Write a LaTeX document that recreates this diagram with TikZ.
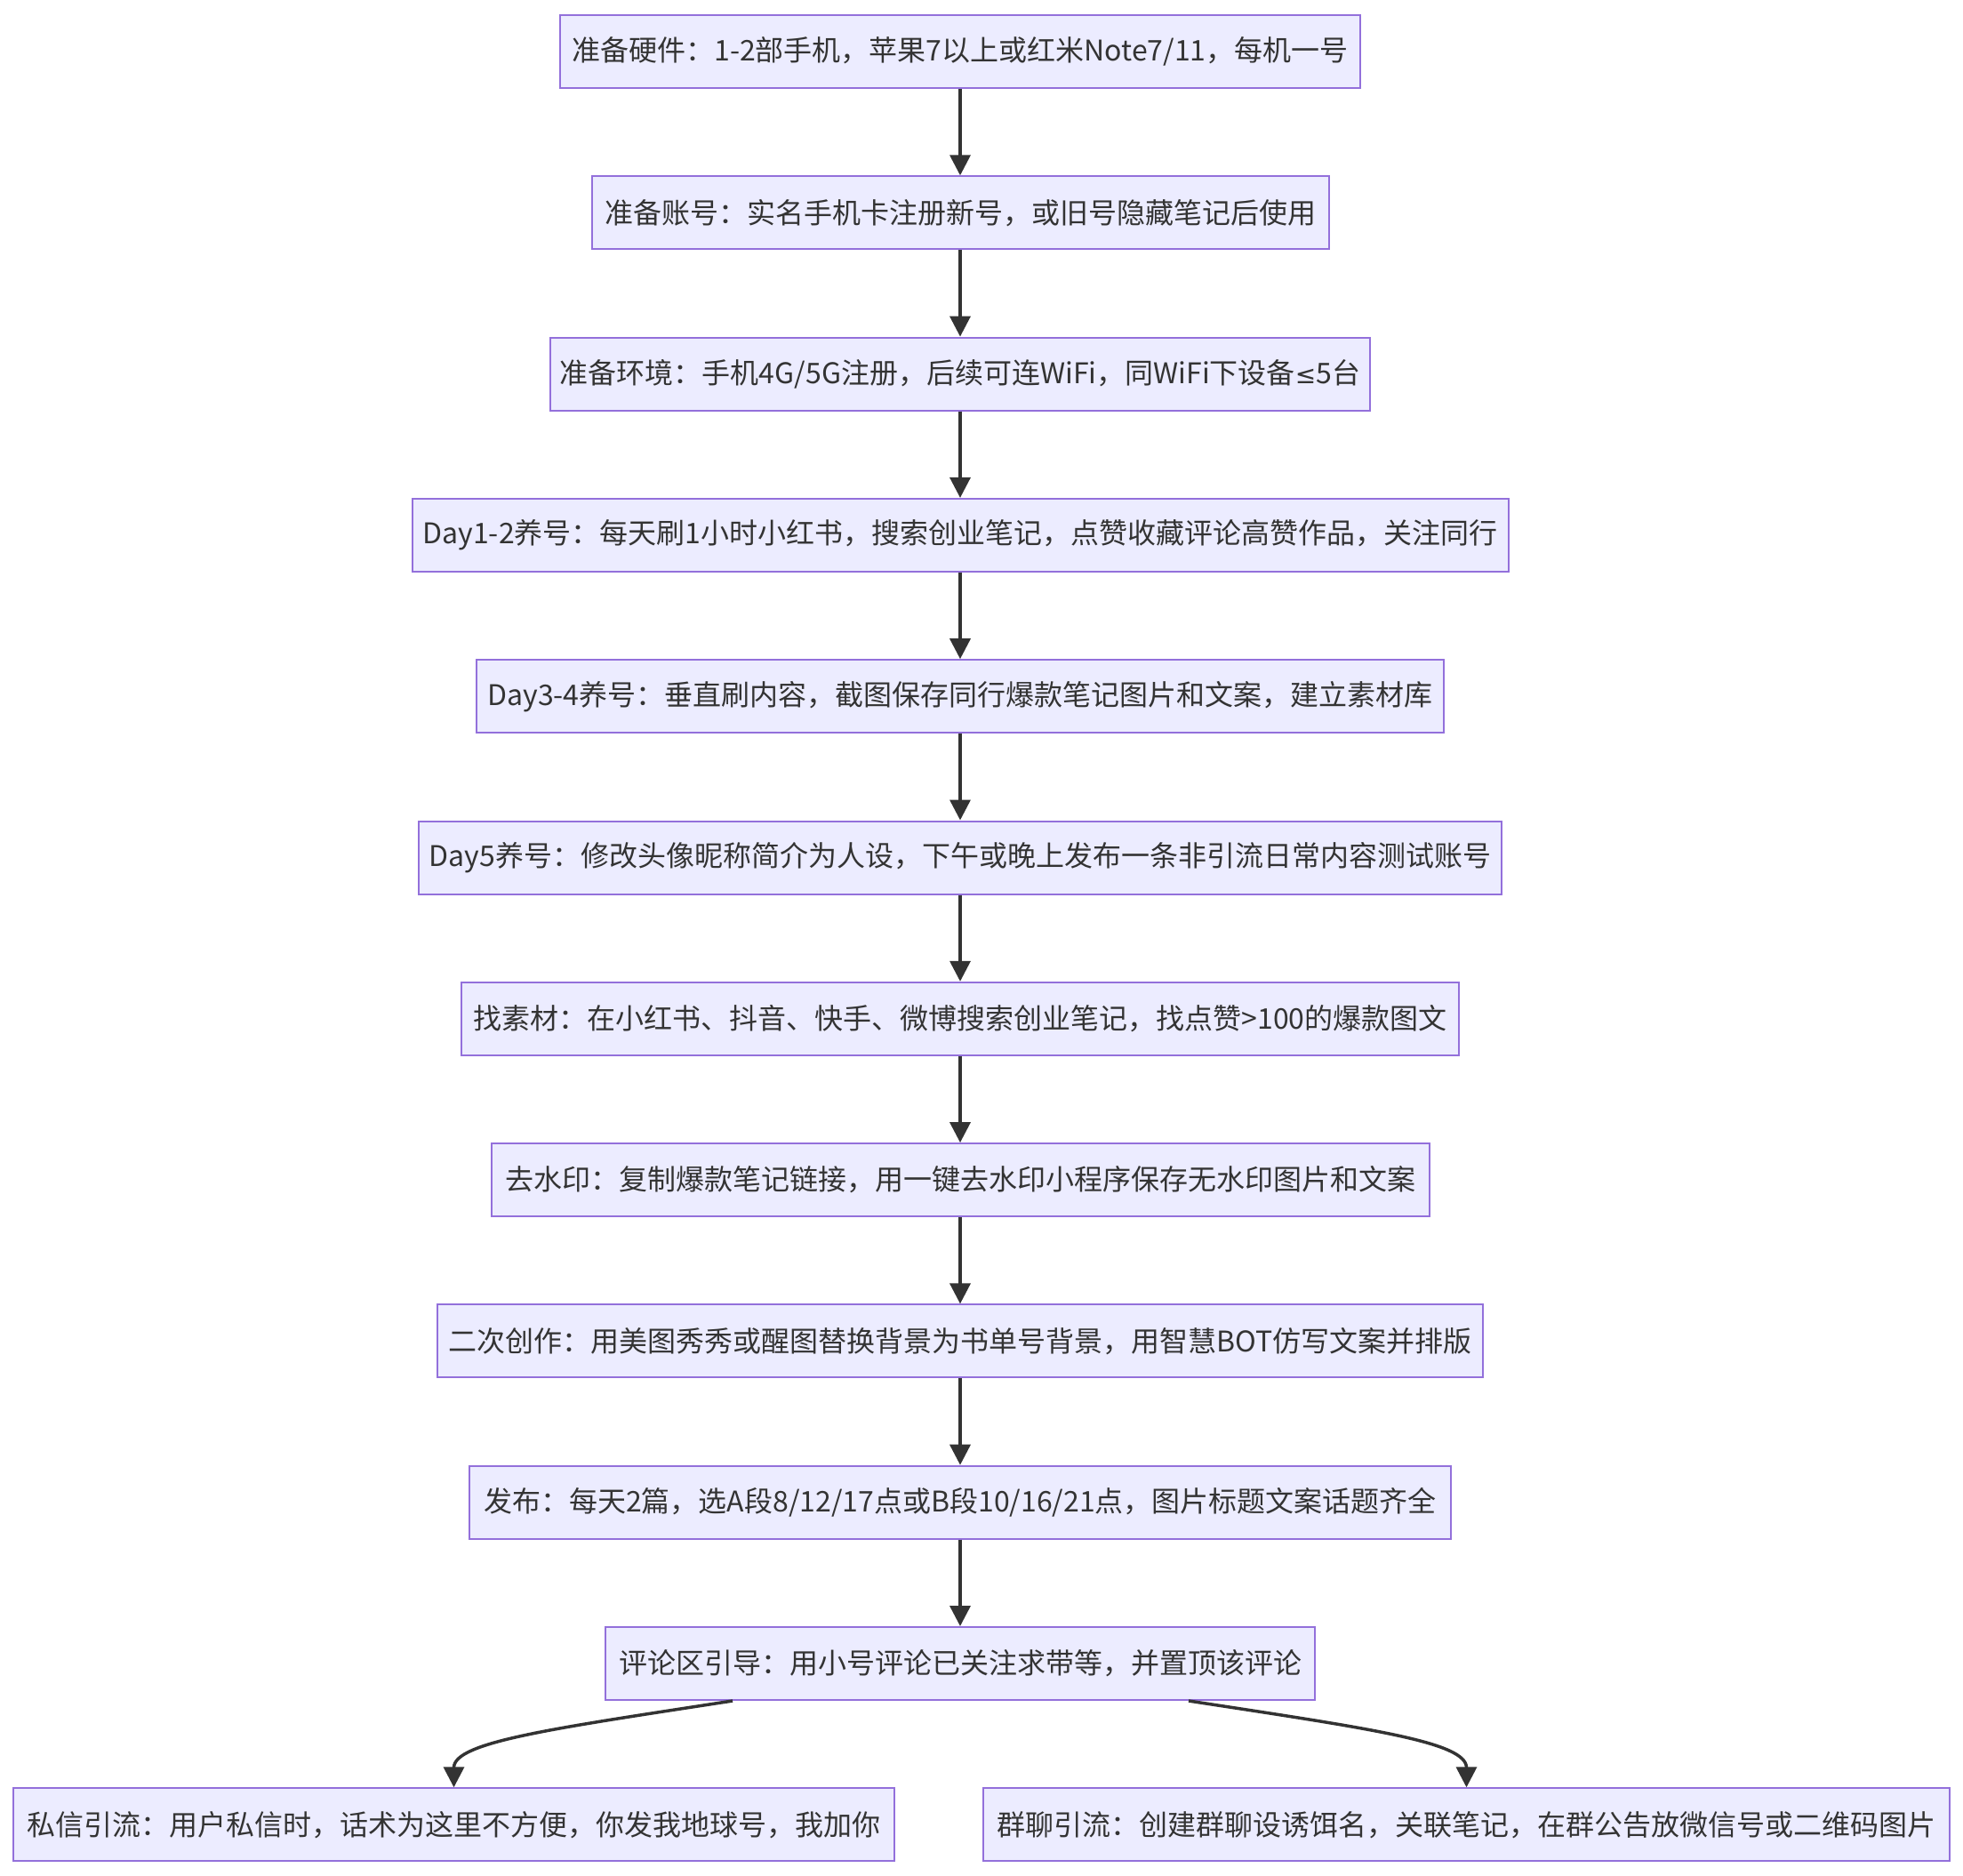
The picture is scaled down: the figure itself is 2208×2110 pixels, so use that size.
\documentclass[tikz,border=0pt]{standalone}
\usepackage{fontspec}
\setmainfont{Noto Sans CJK SC}
\newfontfamily\symfont{DejaVu Sans}
\usetikzlibrary{arrows.meta,calc}
\definecolor{boxfill}{HTML}{ECECFF}
\definecolor{boxline}{HTML}{9370DB}
\definecolor{edgecol}{HTML}{333333}
\tikzset{
  stepbox/.style={draw=boxline, fill=boxfill, line width=1pt, minimum height=41pt,
    inner sep=0pt, text=edgecol, font=\fontsize{16pt}{19pt}\selectfont},
  flow/.style={draw=edgecol, line width=1.75pt, -{Triangle[length=11.5pt,width=11.5pt]}}
}
\begin{document}
\begin{tikzpicture}[x=0.5pt,y=-0.5pt]
\useasboundingbox[fill=white] (0,0) rectangle (2208,2110);
\node[stepbox, minimum width=450pt]   (n1)  at (1080,58)     {准备硬件：1-2部手机，苹果7以上或红米Note7/11，每机一号};
\node[stepbox, minimum width=414.5pt] (n2)  at (1080,239.3)  {准备账号：实名手机卡注册新号，或旧号隐藏笔记后使用};
\node[stepbox, minimum width=461pt]   (n3)  at (1080,420.6)  {准备环境：手机4G/5G注册，后续可连WiFi，同WiFi下设备{\symfont\fontsize{14pt}{17pt}\selectfont ≤}5台};
\node[stepbox, minimum width=616.5pt] (n4)  at (1080,601.9)  {Day1-2养号：每天刷1小时小红书，搜索创业笔记，点赞收藏评论高赞作品，关注同行};
\node[stepbox, minimum width=544pt]   (n5)  at (1080,783.2)  {Day3-4养号：垂直刷内容，截图保存同行爆款笔记图片和文案，建立素材库};
\node[stepbox, minimum width=609pt]   (n6)  at (1080,964.5)  {Day5养号：修改头像昵称简介为人设，下午或晚上发布一条非引流日常内容测试账号};
\node[stepbox, minimum width=561pt]   (n7)  at (1080,1145.8) {找素材：在小红书、抖音、快手、微博搜索创业笔记，找点赞>100的爆款图文};
\node[stepbox, minimum width=527.5pt] (n8)  at (1080,1327.1) {去水印：复制爆款笔记链接，用一键去水印小程序保存无水印图片和文案};
\node[stepbox, minimum width=588pt]   (n9)  at (1080,1508.4) {二次创作：用美图秀秀或醒图替换背景为书单号背景，用智慧BOT仿写文案并排版};
\node[stepbox, minimum width=552pt]   (n10) at (1080,1689.7) {发布：每天2篇，选A段8/12/17点或B段10/16/21点，图片标题文案话题齐全};
\node[stepbox, minimum width=399pt]   (n11) at (1080,1871)   {评论区引导：用小号评论已关注求带等，并置顶该评论};
\node[stepbox, minimum width=495.5pt] (n12a) at (510.5,2052.3) {私信引流：用户私信时，话术为这里不方便，你发我地球号，我加你};
\node[stepbox, minimum width=543.5pt] (n12b) at (1649.5,2052.3) {群聊引流：创建群聊设诱饵名，关联笔记，在群公告放微信号或二维码图片};
\draw[flow] (n1) -- (n2);
\draw[flow] (n2) -- (n3);
\draw[flow] (n3) -- (n4);
\draw[flow] (n4) -- (n5);
\draw[flow] (n5) -- (n6);
\draw[flow] (n6) -- (n7);
\draw[flow] (n7) -- (n8);
\draw[flow] (n8) -- (n9);
\draw[flow] (n9) -- (n10);
\draw[flow] (n10) -- (n11);
\draw[flow] ($(n11.south)+(-256,0)$) .. controls ($(n12a.north)+(110,-66)$) and ($(n12a.north)+(0,-51)$) .. (n12a.north);
\draw[flow] ($(n11.south)+(257,0)$) .. controls ($(n12b.north)+(-108,-66)$) and ($(n12b.north)+(0,-51)$) .. (n12b.north);
\end{tikzpicture}
\end{document}
